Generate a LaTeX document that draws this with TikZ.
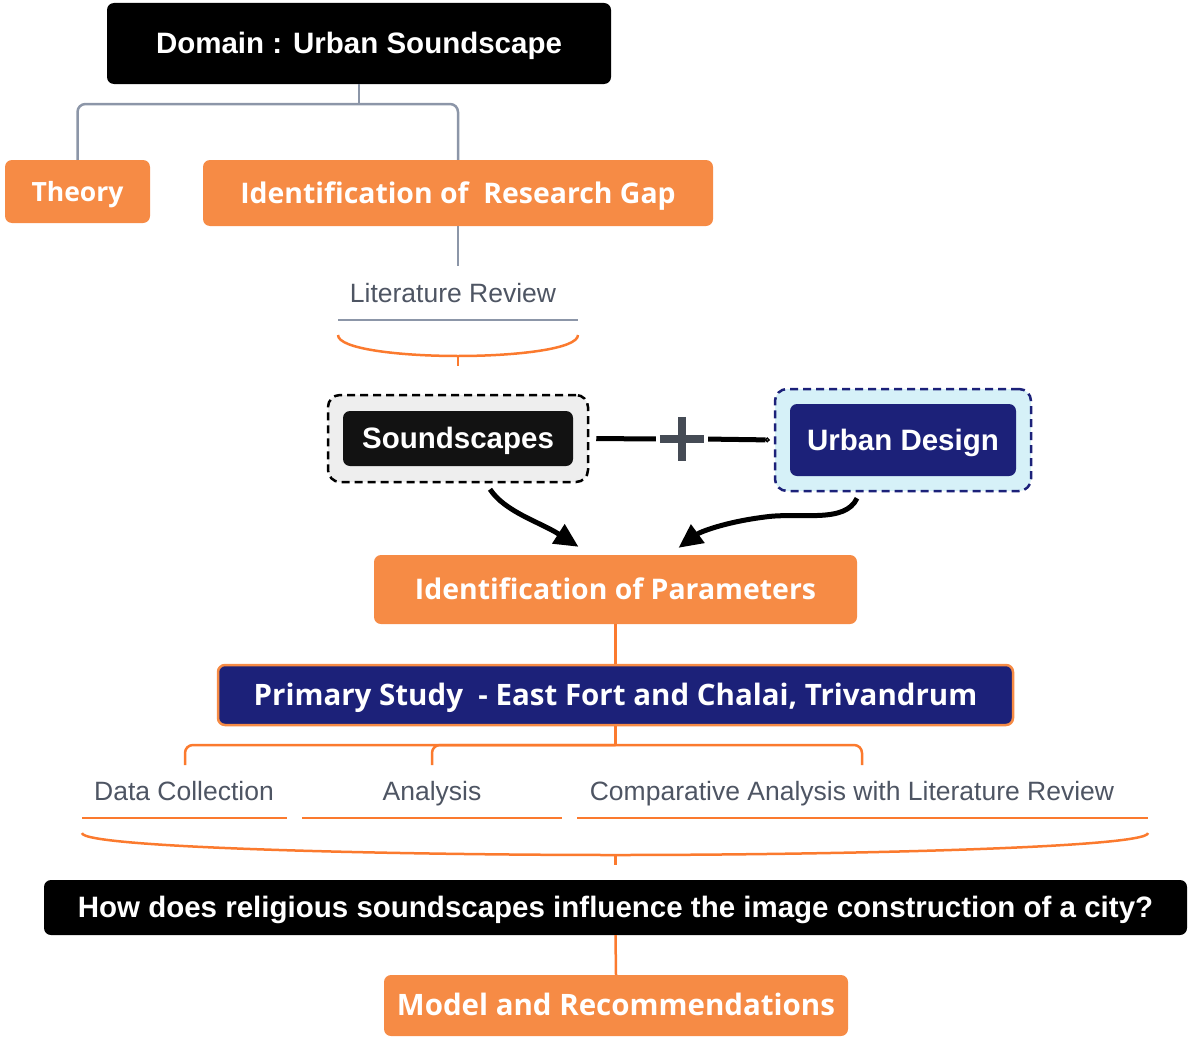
\documentclass[tikz,border=0pt]{standalone}
\usepackage{fontspec}
\usetikzlibrary{arrows.meta}
\newfontfamily\arialf{Liberation Sans}
\newfontfamily\osansf{Open Sans}
\definecolor{boxorange}{HTML}{F68B45}
\definecolor{lineorange}{HTML}{FB7A2E}
\definecolor{linegray}{HTML}{8C96A8}
\definecolor{navy}{HTML}{1C2179}
\definecolor{labelgray}{HTML}{4E5563}
\definecolor{plusgray}{HTML}{454B55}
\definecolor{lightgrayfill}{HTML}{EEEEEE}
\definecolor{lightbluefill}{HTML}{D6F1F8}
\tikzset{
  base/.style={inner sep=0pt, rounded corners=7pt, text=white, align=center, text height=20.5pt, text depth=0pt},
  blackbox/.style={base, fill=black, font=\arialf\bfseries\fontsize{29.5}{32}\selectfont},
  orangebox/.style={base, fill=boxorange, font=\osansf\bfseries\fontsize{28.4}{32}\selectfont},
  navybox/.style={base, fill=navy, font=\osansf\bfseries\fontsize{29.5}{32}\selectfont},
  labeltext/.style={inner sep=0pt, text=labelgray, text height=19pt, text depth=0pt, font=\arialf\fontsize{26.5}{30}\selectfont},
  grayline/.style={draw=linegray, line width=2.5pt},
  orangeline/.style={draw=lineorange, line width=2.5pt},
  dashedframe/.style={inner sep=0pt, rounded corners=12pt, line width=2.5pt, dash pattern=on 8pt off 5pt},
  bigarrow/.style={line width=5pt, -{Triangle[length=24pt,width=22pt]}},
}
\begin{document}
\begin{tikzpicture}[x=1pt,y=-1pt]
\useasboundingbox (0,0) rectangle (1188,1041);

% top
\node[blackbox, minimum width=504pt, minimum height=81pt] (dom) at (359,43.5) {Domain : Urban Soundscape};
\node[orangebox, font=\osansf\bfseries\fontsize{26.5}{32}\selectfont, minimum width=145pt, minimum height=63pt] (theory) at (77.5,191.5) {Theory};
\node[orangebox, minimum width=510pt, minimum height=66pt] (gap) at (458,193) {Identification of\ \ Research Gap};
\coordinate (j1) at (359,104);
\draw[grayline] (dom.south) -- (j1);
\draw[grayline, rounded corners=8pt] (theory.north) |- (j1) -| (gap.north);

% literature review
\node[labeltext] (lit) at (453,293) {Literature Review};
\coordinate (litTop) at (458,266);
\draw[grayline] (gap.south) -- (litTop);
\draw[grayline] (338,320) -- (578,320);
\draw[orangeline] (338,335) .. controls (338,349) and (400,356) .. (458,356)
  .. controls (516,356) and (578,349) .. (578,335);
\draw[orangeline] (458,356) -- (458,366);

% soundscapes + urban design
\node[dashedframe, draw=black, fill=lightgrayfill, minimum width=260pt, minimum height=87pt] (sndOuter) at (458,438.5) {};
\node[blackbox, fill=black!93, minimum width=230pt, minimum height=55pt] (snd) at (458,438.5) {Soundscapes};
\node[dashedframe, draw=navy, fill=lightbluefill, minimum width=256pt, minimum height=102pt] (udOuter) at (903,440) {};
\node[blackbox, fill=navy, minimum width=226pt, minimum height=72pt] (ud) at (903,440) {Urban Design};

\node[inner sep=0pt, minimum width=44pt, minimum height=44pt] (plus) at (682,439) {};
\draw[plusgray, line width=8pt] (plus.west) -- (plus.east);
\draw[plusgray, line width=8pt] (plus.north) -- (plus.south);
\draw[line width=5pt, shorten <=7pt, shorten >=4pt] (sndOuter.east) -- (plus.west);
\draw[line width=5pt, shorten <=4pt, shorten >=4pt, -{Circle[open,length=5pt,width=5pt,line width=1.5pt]}] (plus.east) -- (udOuter.west);

% parameters
\node[orangebox, minimum width=483pt, minimum height=69pt] (param) at (615.5,589.5) {Identification of Parameters};
\draw[bigarrow] ([xshift=32pt,yshift=-6pt]sndOuter.south) .. controls (505,512) and (540,522) .. ([xshift=-37pt,yshift=8pt]param.north);
\draw[bigarrow] ([xshift=-46pt,yshift=-6pt]udOuter.south) .. controls (845,524) and (800,512) .. (765,517)
  .. controls (725,522) and (700,532) .. ([xshift=63pt,yshift=7pt]param.north);

% primary study
\node[navybox, draw=boxorange, line width=2.5pt, minimum width=795pt, minimum height=60pt] (prim) at (615.5,695) {Primary Study\ \ - East Fort and Chalai, Trivandrum};
\draw[orangeline] (param.south) -- (prim.north);

\coordinate (j2) at (615.5,745);
\coordinate (dcTop) at (185,765);
\coordinate (anTop) at (432,765);
\coordinate (caTop) at (862,765);
\draw[orangeline] (prim.south) -- (j2);
\draw[orangeline, rounded corners=8pt] (dcTop) |- (j2) -| (caTop);
\draw[orangeline, rounded corners=8pt] (anTop) |- (j2);

\node[labeltext] (dc) at (184,791) {Data Collection};
\node[labeltext] (an) at (432,791) {Analysis};
\node[labeltext] (ca) at (852,791) {Comparative Analysis with Literature Review};

\draw[orangeline] (82,818) -- (287,818);
\draw[orangeline] (302,818) -- (562,818);
\draw[orangeline] (577,818) -- (1148,818);
\draw[orangeline] (82,833) .. controls (82,848) and (400,855) .. (615.5,855)
  .. controls (831,855) and (1148,848) .. (1148,833);
\draw[orangeline] (615.5,855) -- (615.5,865);

% question + model
\node[blackbox, minimum width=1143pt, minimum height=55pt] (q) at (615.5,907.5) {How does religious soundscapes influence the image construction of a city?};
\node[orangebox, font=\osansf\bfseries\fontsize{29.5}{32}\selectfont, minimum width=464pt, minimum height=61pt] (model) at (616,1005.5) {Model and Recommendations};
\draw[orangeline] (q.south) -- (model.north);
\end{tikzpicture}
\end{document}
